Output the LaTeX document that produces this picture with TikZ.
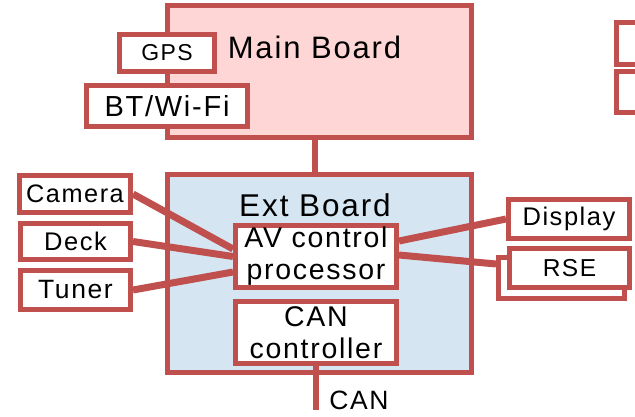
\documentclass[tikz,border=0pt]{standalone}
\usepackage{fontspec}
\setmainfont{Liberation Sans}[LetterSpace=6]
\definecolor{bord}{RGB}{192,80,77}
\definecolor{mainfill}{RGB}{255,214,214}
\definecolor{extfill}{RGB}{214,229,242}
\pgfdeclarelayer{bg}
\pgfdeclarelayer{lines}
\pgfsetlayers{bg,lines,main}
\newcommand{\fs}[1]{\fontsize{#1}{1.2\dimexpr #1pt\relax}\selectfont}
\begin{document}
\begin{tikzpicture}[x=1pt,y=-1pt,
  box/.style={draw=bord, line width=5pt, fill=white, inner sep=0pt, align=center,
    font=\fs{25.5}},
  bigbox/.style={box, font=\fontsize{28.5}{32}\selectfont},
  board/.style={draw=bord, line width=5pt, inner sep=0pt},
  lbl/.style={inner sep=0pt, font=\fs{31}},
  conn/.style={draw=bord, line width=7pt},
  wire/.style={draw=bord, line width=6pt},
]
\clip (0,0) rectangle (635,416);
\useasboundingbox (0,0) rectangle (635,416);
\begin{pgfonlayer}{bg}
\node[board, fill=mainfill, minimum width=304pt, minimum height=132pt] (main) at (319.5,71.5) {};
\node[board, fill=extfill, minimum width=304pt, minimum height=198pt] (ext) at (319.5,273.5) {};
\end{pgfonlayer}
\node[lbl] (mainlbl) at (314.5,47.5) {Main Board};
\node[lbl, font=\fs{31.5}] (extlbl) at (315,205.5) {Ext Board};
\node[box, font=\fs{23}, minimum width=95pt, minimum height=37pt] (gps) at (167,53) {GPS};
\node[box, font=\fs{29}, minimum width=161pt, minimum height=40.5pt] (bt) at (167,105.75) {BT/Wi-Fi};
\node[bigbox, minimum width=161pt, minimum height=62pt] (av) at (316,256.5) {AV control\\processor};
\node[bigbox, minimum width=161pt, minimum height=62pt] (can) at (316,332.5) {CAN\\controller};
\node[box, font=\fs{25.3}, minimum width=111pt, minimum height=37pt] (camera) at (75,194) {Camera};
\node[box, minimum width=110pt, minimum height=36pt] (deck) at (75.5,241.5) {Deck};
\node[box, font=\fs{26.5}, minimum width=110pt, minimum height=39pt] (tuner) at (75.5,290) {Tuner};
\node[box, minimum width=121pt, minimum height=39pt] (display) at (569,219) {Display};
\node[box, minimum width=126pt, minimum height=41pt] (rseback) at (561.5,278) {};
\node[box, font=\fs{24.5}, minimum width=120pt, minimum height=39pt] (rse) at (569.5,268) {RSE};
\node[box, minimum width=27pt, minimum height=42pt] (tr1) at (630,43.5) {};
\node[box, minimum width=27pt, minimum height=41pt] (tr2) at (630,92) {};
\node[lbl, font=\fs{26.5}] (canlbl) at (359,400) {CAN};
\coordinate (canend) at (316,410);
\begin{pgfonlayer}{lines}
\path[wire] ([xshift=-4.5pt]main.south) -- ([xshift=-4.5pt]ext.north);
\path[wire] (can.south) -- (canend);
\path[conn] (camera.east) -- ([yshift=7.5pt]av.west);
\path[conn] (deck.east) -- (av.west);
\path[conn] (tuner.east) -- ([yshift=-15.5pt]av.west);
\path[conn] (display.west) -- ([yshift=15.5pt]av.east);
\path[conn] ([yshift=14pt]rseback.west) -- ([yshift=1.5pt]av.east);
\end{pgfonlayer}
\end{tikzpicture}
\end{document}
